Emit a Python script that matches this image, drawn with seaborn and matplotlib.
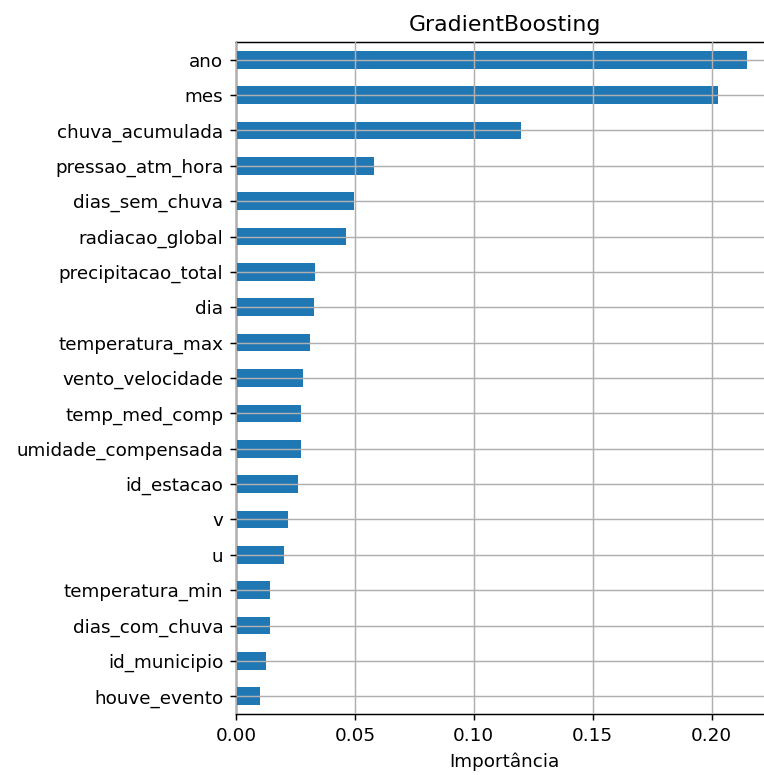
import matplotlib
matplotlib.use("Agg")
import matplotlib.pyplot as plt
import seaborn as sns
import pandas as pd

features = ["ano", "mes", "chuva_acumulada", "pressao_atm_hora", "dias_sem_chuva",
            "radiacao_global", "precipitacao_total", "dia", "temperatura_max",
            "vento_velocidade", "temp_med_comp", "umidade_compensada", "id_estacao",
            "v", "u", "temperatura_min", "dias_com_chuva", "id_municipio", "houve_evento"]
importances = [0.2151, 0.2027, 0.1197, 0.0579, 0.0495,
               0.0461, 0.0332, 0.0327, 0.0310,
               0.0282, 0.0275, 0.0274, 0.0259,
               0.0220, 0.0203, 0.0142, 0.0141, 0.0125, 0.0102]

df = pd.DataFrame({"feature": features, "importance": importances})

W, H = 764, 775
DPI = 132
fig = plt.figure(figsize=(W / DPI, H / DPI), dpi=DPI)
left, right, top, bottom = 236, 773, 42, 714
ax = fig.add_axes([left / W, (H - bottom) / H, (right - left) / W, (bottom - top) / H])

sns.barplot(data=df, x="importance", y="feature", orient="h", color="#1f77b4",
            saturation=1, width=0.5, ax=ax)

ax.set_xlim(0, max(importances) * 1.05)
ax.set_ylim(len(features) - 0.5, -0.5)
ax.grid(True, color="#b0b0b0", linewidth=0.8)
ax.set_axisbelow(False)
for p in ax.patches:
    p.set_zorder(1)
ax.set_xticks([0.0, 0.05, 0.10, 0.15, 0.20])
ax.set_xticklabels(["0.00", "0.05", "0.10", "0.15", "0.20"])
ax.set_xlabel("Importância")
ax.set_ylabel("")
ax.set_title("GradientBoosting", fontsize=12)

fig.savefig("out.png", dpi=DPI)
